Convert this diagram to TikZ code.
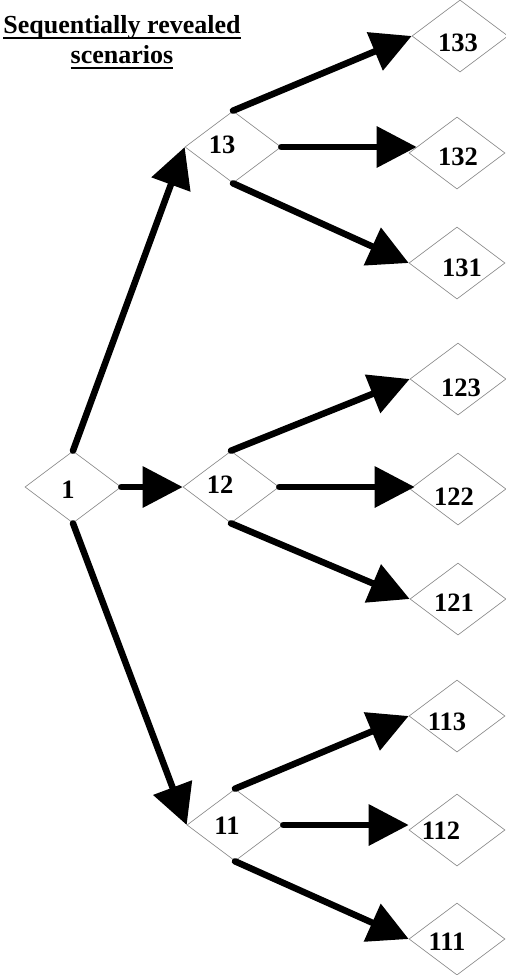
\documentclass[tikz,border=0pt]{standalone}
\usepackage{fontspec}
\setmainfont{Liberation Serif}
\usetikzlibrary{shapes.geometric,arrows.meta}
\begin{document}
\begin{tikzpicture}[x=1pt,y=-1pt,
  dia/.style={draw=gray, line width=0.6pt, shape=diamond, minimum width=96pt, minimum height=72pt, inner sep=0pt},
  lbl/.style={font=\fontsize{26.5}{28}\selectfont\bfseries, inner sep=0pt},
  arr/.style={line width=6.5pt, line cap=round, -{Triangle[length=40pt,width=40pt]}},
  ttl/.style={font=\fontsize{26}{28}\selectfont\bfseries, inner sep=0pt, anchor=base},
  uline/.style={line width=1.8pt}]
\useasboundingbox (0,0) rectangle (506,975);
% title
\node[ttl] (t1) at (122,33) {Sequentially revealed};
\node[ttl] (t2) at (122,63) {scenarios};
\draw[uline] ([yshift=-5pt]t1.base west) -- ([yshift=-5pt]t1.base east);
\draw[uline] ([yshift=-5pt]t2.base west) -- ([yshift=-5pt]t2.base east);
% diamonds
\node[dia] (n1) at (73,487) {};
\node[dia] (n13) at (233,147) {};
\node[dia] (n12) at (231,487) {};
\node[dia] (n11) at (235,825) {};
\node[dia] (n133) at (460,36) {};
\node[dia] (n132) at (457,153) {};
\node[dia] (n131) at (457,263) {};
\node[dia] (n123) at (458,379) {};
\node[dia] (n122) at (458,489) {};
\node[dia] (n121) at (458,599) {};
\node[dia] (n113) at (457,716) {};
\node[dia] (n112) at (457,830) {};
\node[dia] (n111) at (457,939) {};
% labels
\node[lbl] (l1) at ([shift={(-5,3)}]n1.center) {1};
\node[lbl] (l13) at ([shift={(-11,-2)}]n13.center) {13};
\node[lbl] (l12) at ([shift={(-11,-2)}]n12.center) {12};
\node[lbl] (l11) at ([shift={(-8,1)}]n11.center) {11};
\node[lbl] (l133) at ([shift={(-2,7)}]n133.center) {133};
\node[lbl] (l132) at ([shift={(1,4)}]n132.center) {132};
\node[lbl] (l131) at ([shift={(5,5)}]n131.center) {131};
\node[lbl] (l123) at ([shift={(3,9)}]n123.center) {123};
\node[lbl] (l122) at ([shift={(-4,8)}]n122.center) {122};
\node[lbl] (l121) at ([shift={(-4,4)}]n121.center) {121};
\node[lbl] (l113) at ([shift={(-10,6)}]n113.center) {113};
\node[lbl] (l112) at ([shift={(-16,1)}]n112.center) {112};
\node[lbl] (l111) at ([shift={(-10,3)}]n111.center) {111};
% arrows
\draw[arr] (n1.north) -- (n13.west);
\draw[arr] (n1.east) -- (n1.east -| n12.west);
\draw[arr] (n1.south) -- (n11.west);
\draw[arr] (n13.north) -- (n133.west);
\draw[arr] (n13.east) -- ([xshift=8pt]n13.east -| n132.west);
\draw[arr] (n13.south) -- (n131.west);
\draw[arr] (n12.north) -- (n123.west);
\draw[arr] (n12.east) -- ([xshift=5pt]n12.east -| n122.west);
\draw[arr] (n12.south) -- (n121.west);
\draw[arr] (n11.north) -- (n113.west);
\draw[arr] (n11.east) -- (n11.east -| n112.west);
\draw[arr] (n11.south) -- (n111.west);
\end{tikzpicture}
\end{document}
